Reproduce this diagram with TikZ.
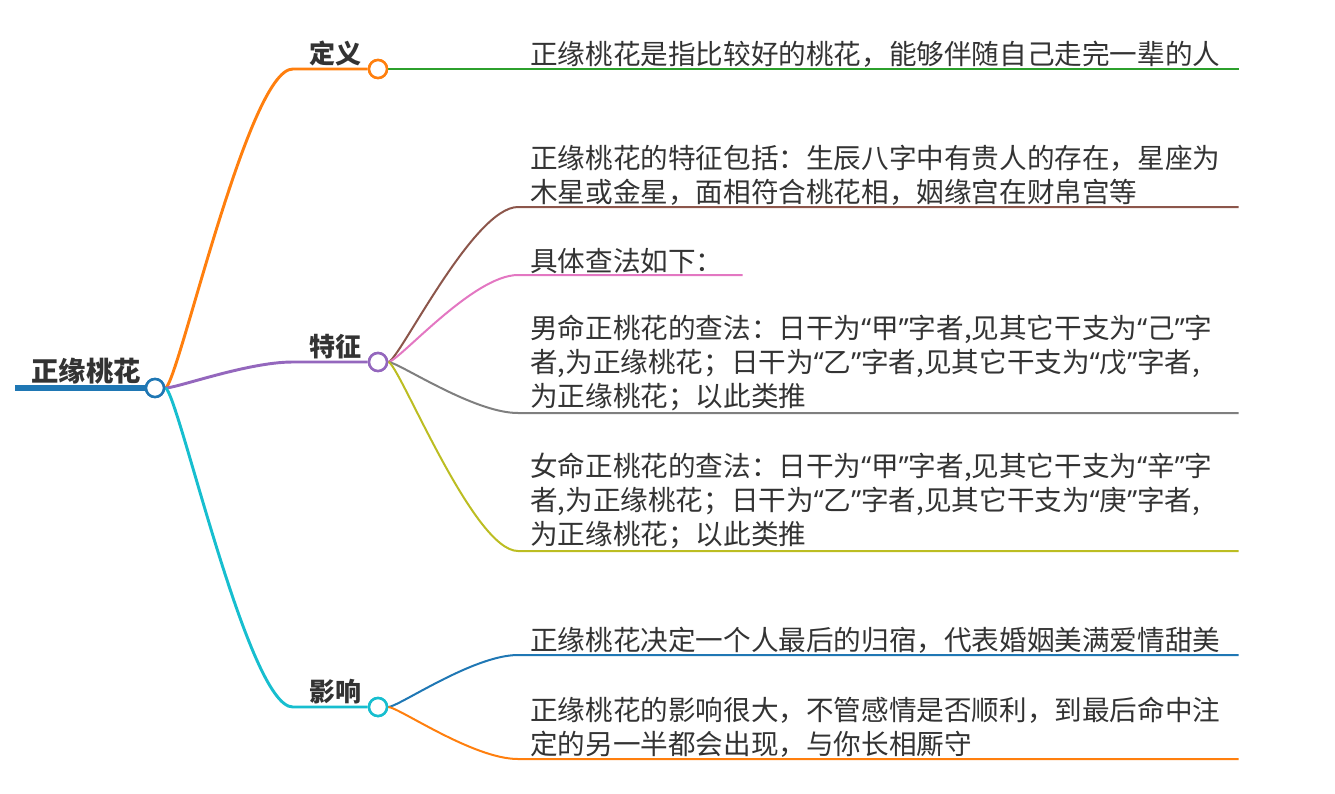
\documentclass[tikz,border=0pt]{standalone}
\usepackage{fontspec}
\setmainfont{Noto Sans CJK SC}
\newfontfamily\quotefont{Noto Sans}
\newcommand{\qo}{{\quotefont “}}
\newcommand{\qc}{{\quotefont ”}}
\usetikzlibrary{positioning, calc}
\definecolor{tabblue}{HTML}{1F77B4}
\definecolor{taborange}{HTML}{FF7F0E}
\definecolor{tabgreen}{HTML}{2CA02C}
\definecolor{tabpurple}{HTML}{9467BD}
\definecolor{tabbrown}{HTML}{8C564B}
\definecolor{tabpink}{HTML}{E377C2}
\definecolor{tabgray}{HTML}{7F7F7F}
\definecolor{tabolive}{HTML}{BCBD22}
\definecolor{tabcyan}{HTML}{17BECF}
\definecolor{inkgray}{HTML}{333333}
\tikzset{
	topic/.style={inner sep=0pt, text=inkgray, font=\fontsize{19.5}{22}\selectfont\bfseries},
	dot/.style={circle, draw, fill=white, line width=1.9pt, minimum size=13.5pt, inner sep=0pt},
	leaf/.style={anchor=south west, align=left, text width=522pt, inner xsep=9pt, inner ysep=1pt, text=inkgray, font=\fontsize{20.7}{25.5}\selectfont},
	branch/.style={line width=2.2pt},
	twig/.style={line width=1.5pt},
}

\begin{document}
\begin{tikzpicture}[x=0.75pt, y=-0.75pt]
		\useasboundingbox (0,0) rectangle (1335,793);
		% root
		\coordinate (start) at (15,388);
		\node[dot, draw=tabblue] (rootdot) at (155,388) {};
		\node[topic, font=\fontsize{20.5}{22}\selectfont\bfseries, anchor=base east] (root) at (141,381) {正缘桃花};
		\draw[line width=5pt, tabblue] (start) -- (rootdot.west);
		% main branches
		\node[dot, draw=taborange] (defdot) at (378,69) {};
		\node[dot, draw=tabpurple] (featdot) at (378,362) {};
		\node[dot, draw=tabcyan] (effdot) at (378,707) {};
		\node[topic, anchor=base east] (def) at ($(defdot.west)+(-6,-6)$) {定义};
		\node[topic, anchor=base east] (feat) at ($(featdot.west)+(-6,-6)$) {特征};
		\node[topic, anchor=base east] (eff) at ($(effdot.west)+(-6,-6)$) {影响};
		\draw[branch, taborange] (rootdot.east) .. controls +(12,0) and +(-45,0) .. ($(defdot.west)+(-75,0)$) -- (defdot.west);
		\draw[branch, tabpurple] (rootdot.east) .. controls +(12,0) and +(-45,0) .. ($(featdot.west)+(-75,0)$) -- (featdot.west);
		\draw[branch, tabcyan] (rootdot.east) .. controls +(12,0) and +(-45,0) .. ($(effdot.west)+(-75,0)$) -- (effdot.west);
		% leaves
		\node[leaf] (d1) at (518,69) {正缘桃花是指比较好的桃花，能够伴随自己走完一辈的人};
		\node[leaf] (f1) at (518,207) {正缘桃花的特征包括：生辰八字中有贵人的存在，星座为\\木星或金星，面相符合桃花相，姻缘宫在财帛宫等};
		\node[leaf, text width=150pt] (f2) at (518,275) {具体查法如下：};
		\node[leaf] (f3) at (518,413) {男命正桃花的查法：日干为\qo 甲\qc 字者,见其它干支为\qo 己\qc 字\\者,为正缘桃花；日干为\qo 乙\qc 字者,见其它干支为\qo 戊\qc 字者,\\为正缘桃花；以此类推};
		\node[leaf] (f4) at (518,551) {女命正桃花的查法：日干为\qo 甲\qc 字者,见其它干支为\qo 辛\qc 字\\者,为正缘桃花；日干为\qo 乙\qc 字者,见其它干支为\qo 庚\qc 字者,\\为正缘桃花；以此类推};
		\node[leaf] (e1) at (518,655) {正缘桃花决定一个人最后的归宿，代表婚姻美满爱情甜美};
		\node[leaf] (e2) at (518,759) {正缘桃花的影响很大，不管感情是否顺利，到最后命中注\\定的另一半都会出现，与你长相厮守};
		\draw[twig, tabgreen] (defdot.east) -- (d1.south east);
		\draw[twig, tabbrown] (featdot.east) .. controls +(10,0) and +(-45,0) .. (f1.south west) -- (f1.south east);
		\draw[twig, tabpink] (featdot.east) .. controls +(10,0) and +(-45,0) .. (f2.south west) -- (f2.south east);
		\draw[twig, tabgray] (featdot.east) .. controls +(10,0) and +(-45,0) .. (f3.south west) -- (f3.south east);
		\draw[twig, tabolive] (featdot.east) .. controls +(10,0) and +(-45,0) .. (f4.south west) -- (f4.south east);
		\draw[twig, tabblue] (effdot.east) .. controls +(10,0) and +(-45,0) .. (e1.south west) -- (e1.south east);
		\draw[twig, taborange] (effdot.east) .. controls +(10,0) and +(-45,0) .. (e2.south west) -- (e2.south east);
		% redraw dots on top
		\node[dot, draw=tabblue] at (rootdot) {};
		\node[dot, draw=taborange] at (defdot) {};
		\node[dot, draw=tabpurple] at (featdot) {};
		\node[dot, draw=tabcyan] at (effdot) {};
	\end{tikzpicture}
\end{document}
